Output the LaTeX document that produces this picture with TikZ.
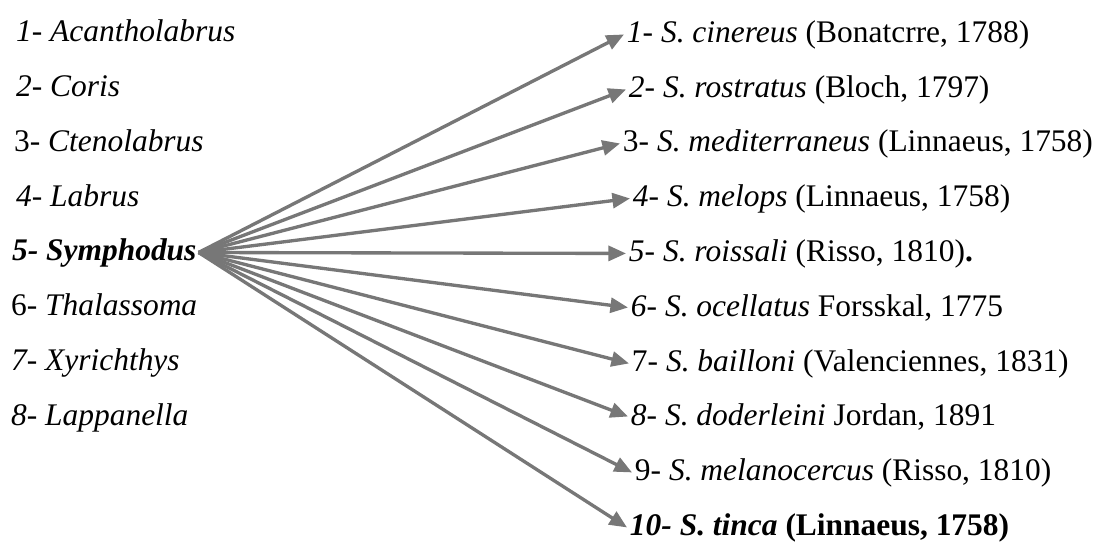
\documentclass[tikz,border=0pt]{standalone}
\usepackage{fontspec}
\setmainfont{Liberation Serif}[
    UprightFont=*,
    ItalicFont=* Italic,
    BoldFont=* Bold,
    BoldItalicFont=* Bold Italic]
\usepackage{tikz}
\usetikzlibrary{arrows.meta}
\definecolor{arrowgrey}{HTML}{777777}
\tikzset{
    genus/.style={
        anchor=base west, inner sep=1pt,
        font=\fontsize{17.9}{21}\selectfont
    },
    species/.style={
        anchor=base west, inner sep=1.5pt,
        font=\fontsize{17.9}{21}\selectfont
    },
    arrow/.style={-{Triangle[length=10pt,width=8.5pt]}, line width=1.9pt, color=arrowgrey},
}

\begin{document}
\begin{tikzpicture}[x=0.02cm, y=-0.02cm]
    \useasboundingbox (0,0) rectangle (1107,542);
    % genera
    \node[genus] (g1) at (14,41) {\textit{1- Acantholabrus}};
    \node[genus] (g2) at (14,96) {\textit{2- Coris}};
    \node[genus] (g3) at (12,151) {3- \textit{Ctenolabrus}};
    \node[genus] (g4) at (14,206) {\textit{4- Labrus}};
    \node[genus] (sym) at (10,260) {\textbf{\textit{5- Symphodus}}};
    \node[genus] (g6) at (9,315) {6- \textit{Thalassoma}};
    \node[genus] (g7) at (9,370) {\textit{7- Xyrichthys}};
    \node[genus] (g8) at (9,425) {\textit{8- Lappanella}};
    % species of Symphodus
    \node[species] (sp1) at (624,42) {\textit{1- S. cinereus} (Bonatcrre, 1788)};
    \node[species] (sp2) at (626,97) {\textit{2- S. rostratus} (Bloch, 1797)};
    \node[species] (sp3) at (620,151) {3- \textit{S. mediterraneus} (Linnaeus, 1758)};
    \node[species] (sp4) at (630,206) {\textit{4- S. melops} (Linnaeus, 1758)};
    \node[species] (sp5) at (626,261) {\textit{5- S. roissali} (Risso, 1810)\textbf{.}};
    \node[species] (sp6) at (628,316) {\textit{6- S. ocellatus} Forsskal, 1775};
    \node[species] (sp7) at (629,371) {7- \textit{S. bailloni} (Valenciennes, 1831)};
    \node[species] (sp8) at (628,425) {\textit{8- S. doderleini} Jordan, 1891};
    \node[species] (sp9) at (632,480) {9- \textit{S. melanocercus} (Risso, 1810)};
    \node[species] (sp10) at (627,535) {\textbf{\textit{10- S. tinca} (Linnaeus, 1758)}};
    \foreach \i in {1,...,10}
        \draw[arrow] (sym.east) -- (sp\i.west);
\end{tikzpicture}
\end{document}
